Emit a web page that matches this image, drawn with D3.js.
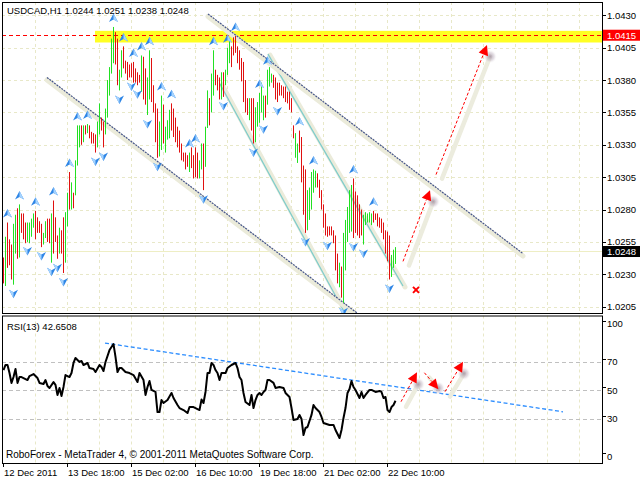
<!DOCTYPE html>
<html><head><meta charset="utf-8">
<script src="https://cdn.jsdelivr.net/npm/d3@7/dist/d3.min.js"></script>
<style>
body{margin:0;background:#fff}
svg{display:block}
text{font-family:"Liberation Sans",Arial,sans-serif;font-size:9.5px;fill:#000}
</style></head>
<body><svg id="c" width="640" height="480"></svg>
<script>
// ---------------- DATA ----------------
const symbolTitle = "USDCAD,H1  1.0244 1.0251 1.0238 1.0248";
const rsiTitle = "RSI(13) 42.6508";
const footer = "RoboForex - MetaTrader 4, \u00a9 2001-2011 MetaQuotes Software Corp.";
const highs = [
1.0243,1.0259,1.0270,1.0257,1.0253,1.0269,1.0276,1.0281,1.0284,1.0277,
1.0277,1.0270,1.0270,1.0270,1.0273,1.0277,1.0279,1.0274,1.0271,1.0269,
1.0262,1.0271,1.0273,1.0273,1.0277,1.0287,1.0274,1.0260,1.0266,1.0264,
1.0274,1.0278,1.0293,1.0309,1.0301,1.0293,1.0318,1.0345,1.0345,1.0345,
1.0345,1.0345,1.0346,1.0345,1.0340,1.0339,1.0338,1.0348,1.0362,1.0351,
1.0348,1.0358,1.0380,1.0390,1.0412,1.0421,1.0417,1.0412,1.0388,1.0403,
1.0406,1.0395,1.0394,1.0392,1.0393,1.0394,1.0389,1.0386,1.0384,1.0399,
1.0398,1.0389,1.0382,1.0403,1.0397,1.0376,1.0362,1.0358,1.0348,1.0368,
1.0361,1.0344,1.0349,1.0357,1.0362,1.0358,1.0351,1.0344,1.0341,1.0331,
1.0324,1.0324,1.0322,1.0324,1.0328,1.0322,1.0328,1.0324,1.0318,1.0331,
1.0331,1.0344,1.0372,1.0366,1.0385,1.0403,1.0388,1.0384,1.0382,1.0386,
1.0386,1.0388,1.0405,1.0412,1.0406,1.0413,1.0414,1.0406,1.0403,1.0397,
1.0394,1.0380,1.0366,1.0366,1.0366,1.0366,1.0359,1.0363,1.0370,1.0378,
1.0368,1.0368,1.0388,1.0390,1.0385,1.0384,1.0382,1.0378,1.0378,1.0376,
1.0375,1.0375,1.0371,1.0371,1.0366,1.0345,1.0339,1.0331,1.0341,1.0336,
1.0314,1.0311,1.0295,1.0297,1.0309,1.0311,1.0310,1.0308,1.0303,1.0295,
1.0284,1.0277,1.0267,1.0267,1.0267,1.0264,1.0260,1.0246,1.0239,1.0236,
1.0262,1.0272,1.0282,1.0295,1.0299,1.0304,1.0294,1.0291,1.0284,1.0280,
1.0276,1.0278,1.0277,1.0278,1.0277,1.0279,1.0277,1.0277,1.0274,1.0273,
1.0270,1.0264,1.0263,1.0260,1.0245,1.0249,1.0251];
const lows = [
1.0223,1.0221,1.0235,1.0237,1.0226,1.0222,1.0246,1.0242,1.0243,1.0262,
1.0257,1.0254,1.0255,1.0254,1.0259,1.0266,1.0257,1.0262,1.0262,1.0251,
1.0253,1.0258,1.0255,1.0254,1.0239,1.0246,1.0255,1.0242,1.0246,1.0246,
1.0231,1.0239,1.0267,1.0280,1.0280,1.0281,1.0291,1.0314,1.0328,1.0330,
1.0332,1.0338,1.0339,1.0335,1.0331,1.0331,1.0324,1.0328,1.0338,1.0341,
1.0328,1.0338,1.0351,1.0368,1.0385,1.0393,1.0392,1.0376,1.0372,1.0382,
1.0389,1.0385,1.0380,1.0382,1.0382,1.0378,1.0378,1.0376,1.0378,1.0371,
1.0365,1.0361,1.0353,1.0365,1.0363,1.0355,1.0332,1.0320,1.0321,1.0326,
1.0331,1.0324,1.0334,1.0335,1.0341,1.0336,1.0332,1.0328,1.0324,1.0318,
1.0317,1.0311,1.0313,1.0309,1.0312,1.0304,1.0305,1.0304,1.0304,1.0311,
1.0295,1.0313,1.0343,1.0345,1.0355,1.0368,1.0376,1.0372,1.0365,1.0365,
1.0367,1.0376,1.0384,1.0393,1.0390,1.0399,1.0401,1.0393,1.0388,1.0379,
1.0363,1.0355,1.0353,1.0349,1.0341,1.0331,1.0332,1.0344,1.0347,1.0355,
1.0349,1.0351,1.0361,1.0375,1.0378,1.0374,1.0365,1.0363,1.0368,1.0368,
1.0366,1.0363,1.0362,1.0357,1.0355,1.0335,1.0320,1.0316,1.0324,1.0301,
1.0276,1.0262,1.0264,1.0272,1.0280,1.0293,1.0297,1.0297,1.0289,1.0280,
1.0266,1.0260,1.0259,1.0260,1.0260,1.0254,1.0233,1.0223,1.0220,1.0212,
1.0208,1.0233,1.0255,1.0262,1.0263,1.0258,1.0262,1.0260,1.0258,1.0260,
1.0253,1.0268,1.0270,1.0270,1.0268,1.0270,1.0272,1.0267,1.0266,1.0262,
1.0257,1.0246,1.0240,1.0226,1.0228,1.0235,1.0238];
// 1 = bullish (lime), 0 = bearish (red)
const bullish = [
0,1,0,0,0,1,1,0,1,0, 0,0,1,1,1,1,0,0,0,0, 1,1,0,0,1,0,0,0,1,0,
0,1,1,0,1,0,1,1,1,0, 1,0,1,0,0,0,0,1,1,0, 0,1,1,1,1,1,0,0,1,1,
0,0,0,0,0,0,0,0,0,1, 0,0,1,1,0,0,0,0,1,1, 0,1,1,1,0,0,0,0,0,0,
0,0,0,1,0,0,0,0,1,1, 0,1,1,0,1,1,0,0,0,1, 0,1,1,1,0,0,0,0,0,0,
0,0,0,1,0,0,1,1,1,1, 1,0,1,1,1,0,0,0,0,0, 0,0,0,0,0,0,1,1,0,0,
0,0,1,1,1,1,1,0,0,0, 0,0,0,0,0,0,0,0,1,0, 1,1,1,1,1,0,0,0,0,0,
1,1,1,1,1,0,0,0,0,0, 0,0,0,0,1,1,1];
const fractalUp = [2,8,16,25,33,37,42,55,60,65,69,73,79,84,93,96,105,112,116,128,132,148,155,175,185];
const fractalDown = [5,12,19,24,27,30,46,50,58,64,67,72,77,100,110,125,130,137,151,162,170,175,180,193];
const rsiIdx = [0,1,2,3,4,5,6,7,8,9,10,12,13,15,17,18,20,21,22,23,25,26,27,28,29,30,31,33,34,35,
36,38,39,40,42,43,45,46,48,49,50,51,53,55,56,57,58,59,61,63,65,67,68,70,71,72,73,74,76,77,
78,79,80,82,84,85,87,88,90,92,93,95,96,98,99,100,101,102,103,104,105,106,107,108,109,111,112,114,116,117,
118,119,120,121,123,124,125,126,127,128,129,130,131,132,133,135,136,138,140,141,143,144,145,147,148,149,150,151,152,154,
155,156,158,159,160,163,165,166,168,169,170,171,172,173,174,175,176,178,179,180,181,183,184,186,188,189,190,191,192,193,194,195,196];
const rsiVal = [64.1,67.6,67.6,62.0,55.1,59.2,64.8,55.1,59.2,59.2,58.5,57.1,59.9,61.3,58.5,55.1,54.4,57.1,53.0,51.6,
55.7,53.7,46.7,51.6,46.0,52.3,60.6,59.2,62.0,69.0,72.5,69.7,70.4,67.6,69.0,65.5,64.8,62.7,67.6,66.2,
63.4,69.7,78.0,82.2,73.2,62.7,65.5,65.5,62.7,62.0,60.6,55.7,62.0,57.1,46.7,52.3,56.4,50.2,48.8,34.8,
34.8,43.2,41.1,43.2,48.1,44.6,39.7,37.6,36.2,34.1,38.3,38.3,37.6,36.2,43.5,41.1,48.8,62.0,62.0,69.0,
67.6,64.1,62.0,57.1,62.0,62.0,65.5,67.6,69.0,65.5,59.2,57.1,48.1,41.8,39.7,46.7,37.6,43.2,46.7,48.1,
46.7,48.8,50.2,57.1,57.1,55.1,51.6,52.3,51.6,48.1,45.3,37.6,29.3,30.0,32.8,30.0,18.8,23.7,24.4,32.8,
39.7,37.6,34.8,31.4,27.2,25.8,25.8,22.3,16.7,22.3,30.7,37.6,48.1,50.9,56.4,52.3,50.2,44.6,48.8,44.6,
46.7,50.2,50.2,48.8,49.5,48.8,44.6,45.3,36.2,34.8,38.3,39.7,42.65];
const priceTicks = [1.0430,1.0405,1.0380,1.0355,1.0330,1.0305,1.0280,1.0255,1.0230,1.0205];
const rsiTicks = [100,70,50,30,0];
const rsiLevels = [70,50,30];
const timeIdx = [0,32,64,96,128,160,192];
const timeLabels = ["12 Dec 2011","13 Dec 18:00","15 Dec 02:00","16 Dec 10:00","19 Dec 18:00","21 Dec 02:00","22 Dec 10:00"];
const targetLevel = 1.0415, targetBand = [1.0418, 1.0409], bandStartIdx = 46;
const lastClose = 1.0248;
// trend/channel lines [index, price]
const channelDark = [[[22,1.0382],[178,1.0199]], [[102.5,1.0431],[260,1.0246]]];
const channelTeal = [[[132.5,1.0400],[200,1.0221]], [[108.5,1.0377],[171,1.0200]]];
const forecastPrice = [[[200,1.0240],[213.5,1.0295]], [[216.5,1.0307],[242,1.0407]]];
const crossMark = [206.5, 1.0218];
const rsiTrend = [[51,82.9],[280,35.0]];
const forecastRsi = [[[199,42.0],[207,62.5]], [[210.7,62.2],[217.7,50.7]], [[221,49.0],[230,69.9]]];

// ---------------- SCALES ----------------
const svg = d3.select("#c");
const L = 2, R = 602, mT = 2, mB = 313, rT = 315.5, rB = 463;
const x = d3.scaleLinear().domain([0, 1]).range([3, 5]);
const yP = d3.scaleLinear().domain([1.0205, 1.0430]).range([306.7, 15.3]);
const yR = d3.scaleLinear().domain([0, 100]).range([462, 318.5]);
const gridX = d3.range(16, 300, 16);

const defs = svg.append("defs");
defs.append("clipPath").attr("id","cm").append("rect").attr("x",L).attr("y",mT).attr("width",R-L).attr("height",mB-mT);
defs.append("clipPath").attr("id","cr").append("rect").attr("x",L).attr("y",rT).attr("width",R-L).attr("height",rB-rT);
const gl = defs.append("radialGradient").attr("id","glow");
gl.append("stop").attr("offset","0%").attr("stop-color","#9c8a9c").attr("stop-opacity",0.8);
gl.append("stop").attr("offset","60%").attr("stop-color","#c8bcc8").attr("stop-opacity",0.45);
gl.append("stop").attr("offset","100%").attr("stop-color","#ffffff").attr("stop-opacity",0);

// ---------------- MAIN PANEL ----------------
const gm = svg.append("g").attr("clip-path","url(#cm)");
gm.selectAll(".gx").data(gridX).join("line")
  .attr("x1",d=>x(d)+0.5).attr("x2",d=>x(d)+0.5).attr("y1",mT).attr("y2",mB)
  .attr("stroke","#e8e8c8").attr("stroke-dasharray","3,3");
gm.selectAll(".gy").data(priceTicks).join("line")
  .attr("x1",L).attr("x2",R).attr("y1",d=>Math.round(yP(d))+0.5).attr("y2",d=>Math.round(yP(d))+0.5)
  .attr("stroke","#e8e8c8").attr("stroke-dasharray","3,3");
gm.append("rect").attr("x",x(bandStartIdx)).attr("y",yP(targetBand[0]))
  .attr("width",R-x(bandStartIdx)).attr("height",yP(targetBand[1])-yP(targetBand[0])).attr("fill","#ffff22");
gm.append("line").attr("x1",L).attr("x2",R).attr("y1",Math.round(yP(lastClose))+0.5).attr("y2",Math.round(yP(lastClose))+0.5)
  .attr("stroke","#eeeec4");
gm.append("line").attr("x1",L).attr("x2",R).attr("y1",Math.round(yP(targetLevel))+0.5).attr("y2",Math.round(yP(targetLevel))+0.5)
  .attr("stroke","#ff0000").attr("stroke-dasharray","4,3");
function drawLine(g, pts, ys, color, dash, sdx, sdy){
  const [a,b] = pts;
  g.append("line").attr("x1",x(a[0])+sdx).attr("y1",ys(a[1])+sdy).attr("x2",x(b[0])+sdx).attr("y2",ys(b[1])+sdy)
    .attr("stroke","#ebebda").attr("stroke-width",5).attr("stroke-linecap","round");
  g.append("line").attr("x1",x(a[0])).attr("y1",ys(a[1])).attr("x2",x(b[0])).attr("y2",ys(b[1]))
    .attr("stroke",color).attr("stroke-width",1.2).attr("stroke-dasharray",dash);
}
channelTeal.forEach(p=>drawLine(gm,p,yP,"#7ccccc",null,2,1));
channelDark.forEach(p=>drawLine(gm,p,yP,"#46558c","2,1",0,2.5));
gm.selectAll(".bar").data(highs).join("line")
  .attr("x1",(d,i)=>x(i)+0.5).attr("x2",(d,i)=>x(i)+0.5)
  .attr("y1",d=>yP(d)).attr("y2",(d,i)=>yP(lows[i]))
  .attr("stroke",(d,i)=>bullish[i]?"#22e022":"#e01010").attr("stroke-width",1);
function upGlyph(g,cx,cy){
  g.append("path").attr("transform",`translate(${cx},${cy})`).attr("d","M0,-4.5L4.5,4L0,1.5L-4.5,4Z").attr("fill","#2f86e6");
  g.append("path").attr("transform",`translate(${cx},${cy})`).attr("d","M0,-4.5L4.5,4L0,1.5Z").attr("fill","#a6d4ff");
}
function downGlyph(g,cx,cy){
  g.append("path").attr("transform",`translate(${cx},${cy})`).attr("d","M0,4.5L4.5,-4L0,-1.5L-4.5,-4Z").attr("fill","#2f86e6");
  g.append("path").attr("transform",`translate(${cx},${cy})`).attr("d","M0,4.5L-4.5,-4L0,-1.5Z").attr("fill","#a6d4ff");
}
fractalUp.forEach(i=>upGlyph(gm,x(i)+0.5,yP(highs[i])-9));
fractalDown.forEach(i=>downGlyph(gm,x(i)+0.5,yP(lows[i])+9));
function arrow(g, pts, ys, sdx, sdy){
  const [a,b] = pts;
  const x0=x(a[0]), y0=ys(a[1]), x1=x(b[0]), y1=ys(b[1]);
  const len=Math.hypot(x1-x0,y1-y0), ux=(x1-x0)/len, uy=(y1-y0)/len;
  const hb=[x1-ux*10, y1-uy*10];
  g.append("line").attr("x1",x0+sdx).attr("y1",y0+sdy).attr("x2",x1-ux*8+sdx).attr("y2",y1-uy*8+sdy)
    .attr("stroke","#ececde").attr("stroke-width",4.5).attr("stroke-linecap","round");
  g.append("circle").attr("cx",x1-ux*8+sdx).attr("cy",y1-uy*8+sdy).attr("r",7).attr("fill","url(#glow)");
  g.append("line").attr("x1",x0).attr("y1",y0).attr("x2",hb[0]).attr("y2",hb[1])
    .attr("stroke","#ff0000").attr("stroke-dasharray","3,2");
  g.append("path").attr("d",`M${x1},${y1}L${hb[0]-uy*5},${hb[1]+ux*5}L${hb[0]+uy*5},${hb[1]-ux*5}Z`).attr("fill","#ff0000");
}
forecastPrice.forEach(p=>arrow(gm,p,yP,6,4));
const cx0=x(crossMark[0]), cy0=yP(crossMark[1]);
gm.append("path").attr("d",`M${cx0-3},${cy0-3}L${cx0+3},${cy0+3}M${cx0+3},${cy0-3}L${cx0-3},${cy0+3}`)
  .attr("stroke","#ff0000").attr("stroke-width",2);

// ---------------- RSI PANEL ----------------
const gr = svg.append("g").attr("clip-path","url(#cr)");
gr.selectAll(".rgx").data(gridX).join("line")
  .attr("x1",d=>x(d)+0.5).attr("x2",d=>x(d)+0.5).attr("y1",rT).attr("y2",rB)
  .attr("stroke","#e8e8c8").attr("stroke-dasharray","3,3");
gr.selectAll(".lv").data(rsiLevels).join("line")
  .attr("x1",L).attr("x2",R).attr("y1",d=>Math.round(yR(d))+0.5).attr("y2",d=>Math.round(yR(d))+0.5)
  .attr("stroke","#c0c0c0").attr("stroke-dasharray","4,3");
gr.append("line").attr("x1",x(rsiTrend[0][0])).attr("y1",yR(rsiTrend[0][1])).attr("x2",x(rsiTrend[1][0])).attr("y2",yR(rsiTrend[1][1]))
  .attr("stroke","#2a8cff").attr("stroke-width",1.3).attr("stroke-dasharray","4,2.5");
const rsiLine = d3.line().x(d=>x(d[0])+0.5).y(d=>yR(d[1]));
gr.append("path").datum(rsiIdx.map((d,i)=>[d,rsiVal[i]])).attr("d",rsiLine)
  .attr("fill","none").attr("stroke","#000").attr("stroke-width",2).attr("stroke-linejoin","round");
forecastRsi.forEach(p=>arrow(gr,p,yR,5,5));

// ---------------- FRAMES & AXES ----------------
svg.append("rect").attr("x",L+0.5).attr("y",mT+0.5).attr("width",R-L).attr("height",mB-mT)
  .attr("fill","none").attr("stroke","#000");
svg.append("rect").attr("x",L+0.5).attr("y",rT+0.5).attr("width",R-L).attr("height",rB-rT)
  .attr("fill","none").attr("stroke","#000");
const pa = svg.append("g");
pa.selectAll("line").data(priceTicks).join("line")
  .attr("x1",R).attr("x2",R+4).attr("y1",d=>Math.round(yP(d))+0.5).attr("y2",d=>Math.round(yP(d))+0.5).attr("stroke","#000");
pa.selectAll("text").data(priceTicks).join("text")
  .attr("x",607).attr("y",d=>yP(d)+3.5).text(d=>d3.format(".4f")(d));
function tag(v, bg){
  const yy=yP(v);
  svg.append("rect").attr("x",R+1).attr("y",yy-5).attr("width",640-R-1).attr("height",11).attr("fill",bg);
  svg.append("text").attr("x",607).attr("y",yy+4).style("fill","#fff").text(d3.format(".4f")(v));
}
tag(targetLevel,"#ff0000");
tag(lastClose,"#000000");
const ra = svg.append("g");
const rsiPos = v => Math.min(Math.max(yR(v), 323.5), 456);
ra.selectAll("line").data(rsiTicks).join("line")
  .attr("x1",R).attr("x2",R+4).attr("y1",d=>Math.round(rsiPos(d)-3)+0.5).attr("y2",d=>Math.round(rsiPos(d)-3)+0.5).attr("stroke","#000");
ra.selectAll("text").data(rsiTicks).join("text")
  .attr("x",607).attr("y",d=>rsiPos(d)+3.5).text(d=>d);
const ta = svg.append("g");
ta.selectAll("line").data(timeIdx).join("line")
  .attr("x1",d=>x(d)+0.5).attr("x2",d=>x(d)+0.5).attr("y1",rB).attr("y2",rB+4).attr("stroke","#000");
ta.selectAll("text").data(timeIdx).join("text")
  .attr("x",d=>x(d)+1).attr("y",476).text((d,i)=>timeLabels[i]);
svg.append("text").attr("x",7).attr("y",14).text(symbolTitle);
svg.append("text").attr("x",7).attr("y",330).text(rsiTitle);
svg.append("text").attr("x",6).attr("y",458).style("font-size","10px").text(footer);
</script></body></html>
